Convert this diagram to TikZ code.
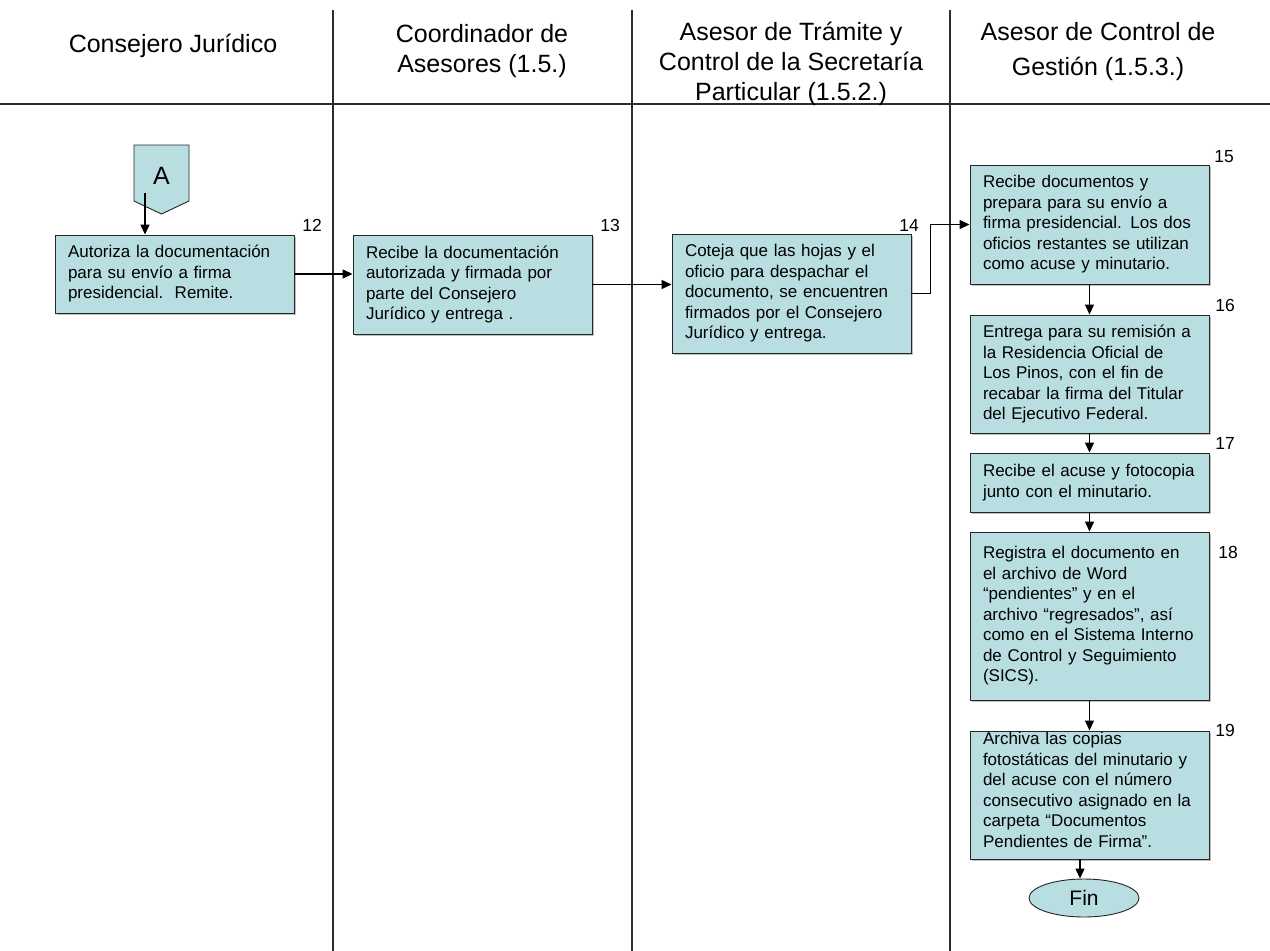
\documentclass[tikz,border=0pt]{standalone}
\usepackage{fontspec}
\setmainfont{Liberation Sans}
\usetikzlibrary{arrows.meta,shadows,shapes.geometric}
\definecolor{boxfill}{RGB}{184,222,226}
\definecolor{laneline}{RGB}{45,45,45}

\begin{document}
\begin{tikzpicture}[x=1pt,y=-1pt,
  lane/.style={draw=laneline, line width=1.1pt},
  hdr/.style={inner sep=0pt, align=center, anchor=north,
    font=\fontsize{25pt}{30pt}\selectfont},
  boxtext/.style={text width=213pt, inner xsep=13pt, inner ysep=0pt, align=left,
    font=\fontsize{17pt}{20.5pt}\selectfont},
  stepbox/.style={boxtext, draw=black!85, line width=0.9pt, fill=boxfill,
    minimum width=239pt,
    drop shadow={shadow xshift=1.5pt, shadow yshift=-1.5pt, fill=black!25, opacity=1}},
  num/.style={inner sep=0pt, font=\fontsize{17.5pt}{20pt}\selectfont},
  arr/.style={draw=black, line width=1.3pt, -{Triangle[length=10pt,width=9pt]}}
]
\useasboundingbox (0,0) rectangle (1270,951);
\fill[white] (0,0) rectangle (1270,951);

% swimlane grid
\draw[lane] (0,104) -- (1270,104);
\draw[lane] (333,10) -- (333,951);
\draw[lane] (632,10) -- (632,951);
\draw[lane] (950,10) -- (950,951);

% lane headings
\node[hdr] (h1) at (173,34) {Consejero Jurídico};
\node[hdr] (h2) at (482,24) {Coordinador de\\Asesores (1.5.)};
\node[hdr] (h3) at (791,22) {Asesor de Trámite y\\Control de la Secretaría\\Particular (1.5.2.)};
\node[hdr, font=\fontsize{25pt}{35pt}\selectfont] (h4) at (1098,22) {Asesor de Control de\\Gestión (1.5.3.)};

% off-page connector A
\draw[draw=black!85, line width=0.9pt, fill=boxfill]
  (134,145) -- (189,145) -- (189,201) -- (161.5,214) -- (134,201) -- cycle;
\node[inner sep=0pt, font=\fontsize{25pt}{30pt}\selectfont] (A) at (161.5,176) {A};
\coordinate (aout) at (145,193);

% process steps
\node[stepbox, minimum height=78pt] (b12) at (174.5,274)
  {Autoriza la documentación\\para su envío a firma\\presidencial.~~Remite.};
\node[stepbox, minimum height=99pt] (b13) at (472.5,284.5)
  {Recibe la documentación\\autorizada y firmada por\\parte del Consejero\\Jurídico y entrega .};
\node[stepbox, minimum height=119pt] (b14) at (791.5,293.5)
  {Coteja que las hojas y el\\oficio para despachar el\\documento, se encuentren\\firmados por el Consejero\\Jurídico y entrega.};
\node[stepbox, minimum height=119pt] (b15) at (1089.5,224.5)
  {Recibe documentos y\\prepara para su envío a\\firma presidencial. Los dos\\oficios restantes se utilizan\\como acuse y minutario.};
\node[stepbox, minimum height=118pt] (b16) at (1089.5,374)
  {Entrega para su remisión a\\la Residencia Oficial de\\Los Pinos, con el fin de\\recabar la firma del Titular\\del Ejecutivo Federal.};
\node[stepbox, minimum height=59pt] (b17) at (1089.5,482.5)
  {Recibe el acuse y fotocopia\\junto con el minutario.};
\node[stepbox, minimum height=168pt] (b18) at (1089.5,616)
  {Registra el documento en\\el archivo de Word\\“pendientes” y en el\\archivo “regresados”, así\\como en el Sistema Interno\\de Control y Seguimiento\\(SICS).};
\node[stepbox, minimum height=128pt] (b19) at (1089.5,795) {};
\node[boxtext] (t19) at ([yshift=5pt]b19.center)
  {Archiva las copias\\fotostáticas del minutario y\\del acuse con el número\\consecutivo asignado en la\\carpeta “Documentos\\Pendientes de Firma”.};

\node[draw=black!85, line width=0.9pt, fill=boxfill, ellipse, minimum width=110pt,
  minimum height=38pt, inner sep=0pt, font=\fontsize{21pt}{24pt}\selectfont]
  (fin) at (1084,898) {Fin};

% step numbers
\node[num] (n12) at (312,225) {12};
\node[num] (n13) at (610,225) {13};
\node[num] (n14) at (909,225) {14};
\node[num] (n15) at (1224,157) {15};
\node[num] (n16) at (1225,305) {16};
\node[num] (n17) at (1225,443) {17};
\node[num] (n18) at (1228,552) {18};
\node[num] (n19) at (1225,730) {19};

% flow
\draw[arr] (aout) -- (aout |- b12.north);
\draw[arr] (b12.east) -- (b12.east -| b13.west);
\draw[arr] (b13.east) -- (b13.east -| b14.west);
\draw[arr] (b14.east) -- ++(19,0) |- (b15.west);
\draw[arr] (b15.south) -- (b16.north);
\draw[arr] (b16.south) -- (b17.north);
\draw[arr] (b17.south) -- (b18.north);
\draw[arr] (b18.south) -- (b19.north);
\draw[arr] ([xshift=-9.5pt]b19.south) -- ([xshift=-4pt]fin.north);
\end{tikzpicture}
\end{document}
